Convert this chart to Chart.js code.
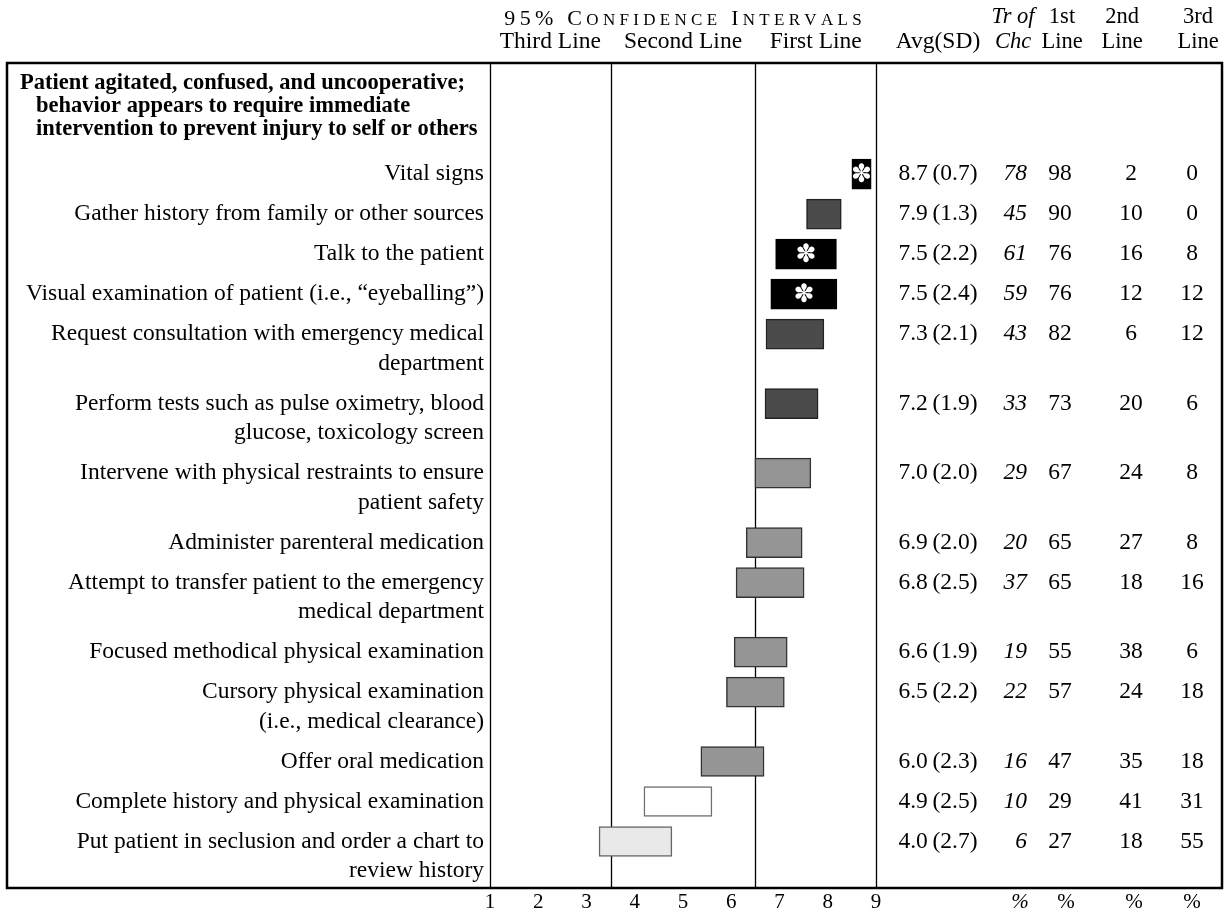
<!DOCTYPE html>
<html>
<head>
<meta charset="utf-8">
<script src="https://cdn.jsdelivr.net/npm/chart.js@4.4.1/dist/chart.umd.min.js"></script>
<style>
  html, body { margin: 0; padding: 0; background: #fff; }
  #wrap { width: 1224px; height: 913px; }
</style>
</head>
<body>
<div id="wrap"><canvas id="chart" width="1224" height="913"></canvas></div>
<script>
// ---- data ----
const groupTitle = [
  'Patient agitated, confused, and uncooperative;',
  'behavior appears to require immediate',
  'intervention to prevent injury to self or others'
];
const items = [
  ['Vital signs'],
  ['Gather history from family or other sources'],
  ['Talk to the patient'],
  ['Visual examination of patient (i.e., \u201ceyeballing\u201d)'],
  ['Request consultation with emergency medical', 'department'],
  ['Perform tests such as pulse oximetry, blood', 'glucose, toxicology screen'],
  ['Intervene with physical restraints to ensure', 'patient safety'],
  ['Administer parenteral medication'],
  ['Attempt to transfer patient to the emergency', 'medical department'],
  ['Focused methodical physical examination'],
  ['Cursory physical examination', '(i.e., medical clearance)'],
  ['Offer oral medication'],
  ['Complete history and physical examination'],
  ['Put patient in seclusion and order a chart to', 'review history']
];
const ciLow  = [8.50, 7.56, 6.92, 6.82, 6.72, 6.70, 6.49, 6.31, 6.10, 6.06, 5.90, 5.37, 4.19, 3.26];
const ciHigh = [8.90, 8.28, 8.18, 8.19, 7.92, 7.80, 7.65, 7.47, 7.51, 7.16, 7.10, 6.68, 5.60, 4.77];
const avg    = [8.7, 7.9, 7.5, 7.5, 7.3, 7.2, 7.0, 6.9, 6.8, 6.6, 6.5, 6.0, 4.9, 4.0];
const sd     = [0.7, 1.3, 2.2, 2.4, 2.1, 1.9, 2.0, 2.0, 2.5, 1.9, 2.2, 2.3, 2.5, 2.7];
const trChc  = [78, 45, 61, 59, 43, 33, 29, 20, 37, 19, 22, 16, 10, 6];
const pctFirst  = [98, 90, 76, 76, 82, 73, 67, 65, 65, 55, 57, 47, 29, 27];
const pctSecond = [2, 10, 16, 12, 6, 20, 24, 27, 18, 38, 24, 35, 41, 18];
const pctThird  = [0, 0, 8, 12, 12, 6, 8, 8, 16, 6, 18, 18, 31, 55];
// rating of each option: treatment of choice, first line, first/second, second, second/third
const rating = ['choice', 'first', 'choice', 'choice', 'first', 'first', 'firstSecond',
                'firstSecond', 'firstSecond', 'firstSecond', 'firstSecond', 'firstSecond',
                'second', 'secondThird'];
const zoneLabels = ['Third Line', 'Second Line', 'First Line'];
const zoneBreaks = [3.5, 6.5];
const xTicks = [1, 2, 3, 4, 5, 6, 7, 8, 9];

// ---- styles ----
const SERIF = '"Liberation Serif", "Times New Roman", serif';
const FONT = 23.5;
const HEAD_FONT = 22.5;
const STYLE = {
  choice:      { fill: '#000000', border: '#000000' },
  first:       { fill: '#4b4b4b', border: '#222222' },
  firstSecond: { fill: '#959595', border: '#333333' },
  second:      { fill: '#ffffff', border: '#6f6f6f' },
  secondThird: { fill: '#e9e9e9', border: '#666666' }
};
const LINE_GAP = 29.5;      // px between lines of one label
const ROW_UNIT = 40;        // px per single-line row

// row positions on the y scale: multi-line rows take extra room
const rowPos = [];
let acc = 0;
items.forEach(lines => {
  rowPos.push(acc);
  acc += 1 + (LINE_GAP / ROW_UNIT) * (lines.length - 1);
});

// table columns: header centre, value anchor
const cols = [
  { head: ['', 'Avg(SD)'], hx: 938, x: 938, align: 'center', italic: false, foot: '' },
  { head: ['Tr of', 'Chc'], hx: 1013, x: 1027, align: 'right', italic: true, foot: '%' },
  { head: ['1st', 'Line'], hx: 1062, x: 1060, align: 'center', italic: false, foot: '%' },
  { head: ['2nd', 'Line'], hx: 1122, x: 1131, align: 'center', italic: false, foot: '%' },
  { head: ['3rd', 'Line'], hx: 1198, x: 1192, align: 'center', italic: false, foot: '%' }
];
const footX = [0, 1020, 1066, 1134, 1192];
const colValues = [
  avg.map((a, i) => a.toFixed(1) + '\u2009(' + sd[i].toFixed(1) + ')'),
  trChc.map(String), pctFirst.map(String), pctSecond.map(String), pctThird.map(String)
];

function smallCaps(ctx, text, cx, y, big, small, spacing) {
  const parts = [...text].map(ch => {
    const low = ch !== ch.toUpperCase();
    return { ch: ch.toUpperCase(), size: low ? small : big };
  });
  let total = 0;
  parts.forEach(p => {
    ctx.font = p.size + 'px ' + SERIF;
    p.w = ctx.measureText(p.ch).width;
    total += p.w + spacing;
  });
  total -= spacing;
  let x = cx - total / 2;
  ctx.textAlign = 'left';
  ctx.textBaseline = 'alphabetic';
  parts.forEach(p => {
    ctx.font = p.size + 'px ' + SERIF;
    ctx.fillText(p.ch, x, y);
    x += p.w + spacing;
  });
}

const tablePlugin = {
  id: 'tablePlugin',
  beforeDatasetsDraw(chart) {
    const { ctx, chartArea: a, scales: { x, y } } = chart;
    ctx.save();
    ctx.fillStyle = '#000';
    ctx.strokeStyle = '#000';

    // zone dividers and plot edges
    ctx.lineWidth = 1.3;
    [x.min, ...zoneBreaks, x.max].forEach(v => {
      const px = Math.round(x.getPixelForValue(v)) + 0.5;
      ctx.beginPath(); ctx.moveTo(px, a.top); ctx.lineTo(px, a.bottom); ctx.stroke();
    });
    // outer frame
    ctx.lineWidth = 2.5;
    ctx.strokeRect(7, a.top, 1215, a.bottom - a.top);

    // header over the plot
    smallCaps(ctx, '95% Confidence Intervals', (x.left + x.right) / 2, 25, 22, 17, 4.3);
    ctx.font = FONT + 'px ' + SERIF;
    ctx.textAlign = 'center';
    ctx.textBaseline = 'middle';
    const zb = [x.min, ...zoneBreaks, x.max];
    zoneLabels.forEach((t, i) => {
      ctx.fillText(t, x.getPixelForValue((zb[i] + zb[i + 1]) / 2), 42);
    });

    // table headers
    cols.forEach(c => {
      c.head.forEach((t, k) => {
        if (!t) return;
        const size = c.hx === c.x && !k ? FONT : HEAD_FONT;
        ctx.font = (c.italic ? 'italic ' : '') + (k && !c.head[0] ? FONT : size) + 'px ' + SERIF;
        ctx.fillText(t, c.hx, 17 + k * 25);
      });
    });

    // group title
    ctx.font = 'bold 22.5px ' + SERIF;
    ctx.textAlign = 'left';
    const y0 = y.getPixelForValue(rowPos[0]);
    groupTitle.forEach((t, k) => {
      ctx.fillText(t, k === 0 ? 20 : 36, y0 - 91 + k * 23);
    });

    // row labels and table values
    items.forEach((lines, i) => {
      const py = y.getPixelForValue(rowPos[i]);
      ctx.font = FONT + 'px ' + SERIF;
      ctx.textAlign = 'right';
      lines.forEach((t, k) => ctx.fillText(t, a.left - 6, py + k * LINE_GAP));
      cols.forEach((c, j) => {
        ctx.textAlign = c.align;
        ctx.font = (c.italic ? 'italic ' : '') + FONT + 'px ' + SERIF;
        ctx.fillText(colValues[j][i], c.x, py);
      });
    });

    // percent signs under the table
    ctx.textAlign = 'center';
    cols.forEach((c, j) => {
      if (!c.foot) return;
      ctx.font = (c.italic ? 'italic ' : '') + '21px ' + SERIF;
      ctx.fillText(c.foot, footX[j], a.bottom + 14);
    });
    ctx.restore();
  },
  afterDatasetsDraw(chart) {
    const { ctx } = chart;
    const meta = chart.getDatasetMeta(0);
    ctx.save();
    ctx.fillStyle = '#fff';
    ctx.font = 'bold 25px "DejaVu Sans", sans-serif';
    ctx.textAlign = 'center';
    ctx.textBaseline = 'middle';
    meta.data.forEach((bar, i) => {
      if (rating[i] !== 'choice') return;
      ctx.fillText('\u273D', (bar.x + bar.base) / 2, bar.y + 1);
    });
    ctx.restore();
  }
};

new Chart(document.getElementById('chart'), {
  type: 'bar',
  data: {
    datasets: [{
      data: items.map((_, i) => ({ x: [ciLow[i], ciHigh[i]], y: rowPos[i] })),
      backgroundColor: rating.map(r => STYLE[r].fill),
      borderColor: rating.map(r => STYLE[r].border),
      borderWidth: 1.5,
      borderSkipped: false,
      barThickness: 30
    }]
  },
  options: {
    indexAxis: 'y',
    responsive: false,
    animation: false,
    layout: { padding: { left: 490, right: 348, top: 63, bottom: 0 } },
    plugins: { legend: { display: false }, tooltip: { enabled: false } },
    scales: {
      x: {
        type: 'linear', min: 1, max: 9,
        afterBuildTicks: s => { s.ticks = xTicks.map(v => ({ value: v })); },
        afterFit: s => { s.height = 25; },
        grid: { display: false, drawTicks: false },
        border: { display: false },
        ticks: { padding: 2, color: '#000', font: { family: SERIF, size: 21 } }
      },
      y: {
        type: 'linear', reverse: true, min: -2.78, max: 17.85,
        offset: false,
        display: false
      }
    }
  },
  plugins: [tablePlugin]
});
</script>
</body>
</html>
